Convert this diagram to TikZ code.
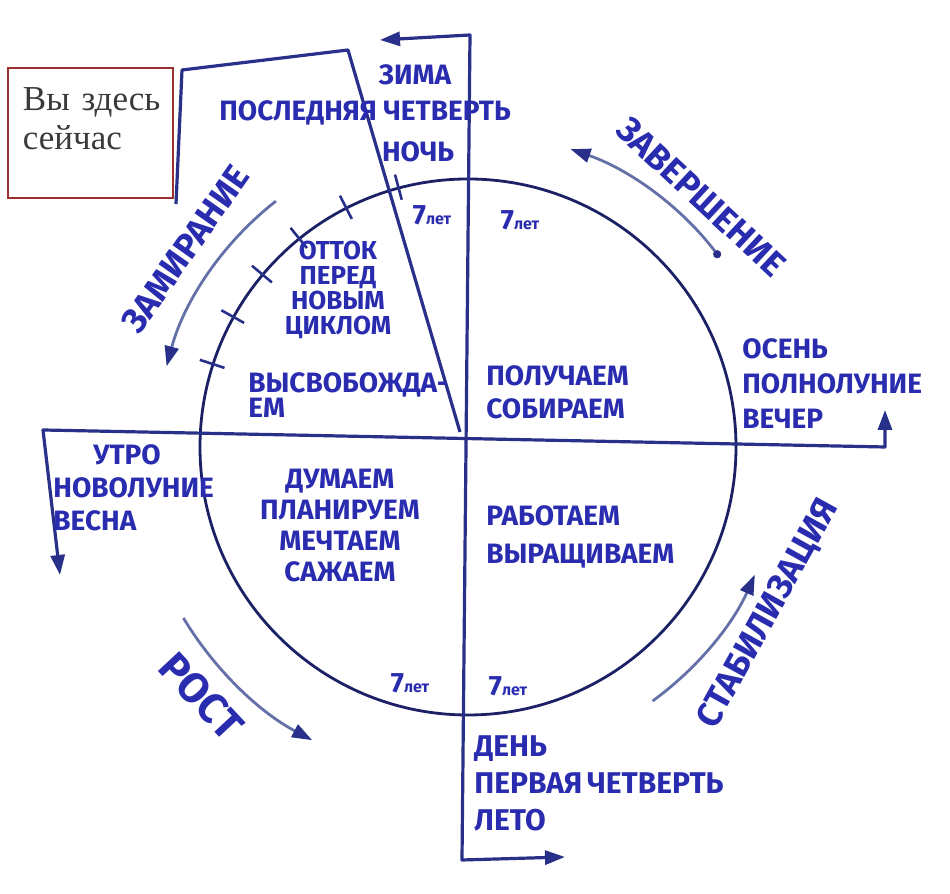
\documentclass[tikz,border=0pt]{standalone}
\usepackage{fontspec}
\usepackage{xcolor}
\usetikzlibrary{arrows.meta,calc,positioning}
\setmainfont{Liberation Serif}
\newfontfamily\handfont{Fira Sans}
\definecolor{cycleInk}{HTML}{2A2CB0}
\definecolor{cycleLine}{HTML}{28308A}
\definecolor{cycleRing}{HTML}{1C2166}
\definecolor{cycleArc}{HTML}{6470A8}
\definecolor{cycleBox}{HTML}{9A3030}
\definecolor{cycleText}{HTML}{3A3A3A}
\newcommand{\handsize}[2]{\handfont\bfseries\fontsize{#1}{#2}\selectfont}

\begin{document}
\begin{tikzpicture}[x=0.5pt, y=0.5pt,
    every node/.style={font=\handsize{14}{16.5}, text=cycleInk, inner sep=0pt},
    axisline/.style={draw=cycleLine, line width=1.6pt, line join=round, {Triangle[length=10pt,width=7pt]}-{Triangle[length=10pt,width=7pt]}},
    phasearc/.style={draw=cycleArc, line width=1.4pt, -{Triangle[length=10pt,width=7pt,color=cycleLine]}},
    phaselabel/.style={font=\handsize{17.5}{17.5}},
    years/.style={font=\handsize{14}{14}}]
  \useasboundingbox[fill=white] (0,0) rectangle (950,894);

  \coordinate (C) at (468,447);
  \draw[cycleRing, line width=1.4pt] (C) circle[radius=268];

  \coordinate (vtl) at (380,854);
  \coordinate (vt) at (470,859);
  \coordinate (vb) at (462,34);
  \coordinate (vbr) at (565,37);
  \draw[axisline] (vtl) -- (vt) -- (vb) -- (vbr);

  \coordinate (hlb) at (60,319);
  \coordinate (hl) at (43,464);
  \coordinate (hr) at (885,447);
  \coordinate (hrt) at (885,484);
  \draw[axisline] (hlb) -- (hl) -- (hr) -- (hrt);

  \foreach \a in {105,117,129,140,151,162}
    \draw[cycleLine, line width=1.3pt] (C) ++(\a:256) -- ++(\a:26);

  \node[draw=cycleBox, line width=0.8pt, inner sep=0pt, minimum width=82.5pt, minimum height=65pt,
        font=\fontsize{17.5}{19.5}\selectfont, text=cycleText, align=left, text width=82.5pt] (here) at (90.5,761)
        {\hspace*{7.5pt}Вы здесь\\\hspace*{7.5pt}сейчас\par\vspace{14pt}};
  \coordinate (p1) at (176,690);
  \coordinate (p2) at (182,824);
  \coordinate (p3) at (348,844);
  \coordinate (p4) at (460,462);
  \draw[cycleLine, line width=1.6pt, line join=round] (p1) -- (p2) -- (p3) -- (p4);

  \draw[phasearc] (C) ++(128:312) arc[start angle=128, end angle=165, radius=312];
  \draw[phasearc, {Circle[length=4pt,color=cycleLine]}-{Triangle[length=10pt,width=7pt,color=cycleLine]}]
    (C) ++(37:315) arc[start angle=37, end angle=71, radius=315];
  \draw[phasearc] (C) ++(-54:314) arc[start angle=-54, end angle=-24, radius=314];
  \draw[phasearc] (C) ++(211:332) arc[start angle=211, end angle=242, radius=332];

  \node[phaselabel, rotate=55] (fading) at ($(C)+(145:345)$) {ЗАМИРАНИЕ};
  \node[phaselabel, rotate=-43] (ending) at ($(C)+(47:342)$) {ЗАВЕРШЕНИЕ};
  \node[phaselabel, rotate=61] (steady) at ($(C)+(-29:344)$) {СТАБИЛИЗАЦИЯ};
  \node[phaselabel, rotate=-47, font=\handsize{21}{21}] (growth) at ($(C)+(223:365)$) {РОСТ};

  \node (winter) at (415,819) {ЗИМА};
  \node (lastq) at (365,781) {ПОСЛЕДНЯЯ ЧЕТВЕРТЬ};
  \node (night) at (418,742) {НОЧЬ};

  \node[years] (ytl) at (432,679) {7\footnotesize лет};
  \node[years] (ytr) at (520,674) {7\footnotesize лет};
  \node[years] (ybl) at (410,211) {7\footnotesize лет};
  \node[years] (ybr) at (508,208) {7\footnotesize лет};

  \node[align=center, font=\handsize{13}{12.5}] (outflow) at (338,604) {ОТТОК\\ПЕРЕД\\НОВЫМ\\ЦИКЛОМ};
  \node[align=left, anchor=west, font=\handsize{14}{12.5}] (release) at (248,499) {ВЫСВОБОЖДА-\\ЕМ};
  \node[align=left, anchor=west] (receive) at (486,502) {ПОЛУЧАЕМ\\СОБИРАЕМ};
  \node[align=left, anchor=west, font=\handsize{14}{17.5}] (autumn) at (742,510) {ОСЕНЬ\\ПОЛНОЛУНИЕ\\ВЕЧЕР};
  \node[align=left, anchor=west] (morning) at (53,406) {\hspace{20pt}УТРО\\НОВОЛУНИЕ\\ВЕСНА};
  \node[align=center, font=\handsize{14}{15.5}] (think) at (340,368) {ДУМАЕМ\\ПЛАНИРУЕМ\\МЕЧТАЕМ\\САЖАЕМ};
  \node[align=left, anchor=west, font=\handsize{14}{19}] (work) at (486,357) {РАБОТАЕМ\\ВЫРАЩИВАЕМ};
  \node[align=left, anchor=west, font=\handsize{15}{18.5}] (day) at (474,111) {ДЕНЬ\\ПЕРВАЯ\,ЧЕТВЕРТЬ\\ЛЕТО};
\end{tikzpicture}
\end{document}
